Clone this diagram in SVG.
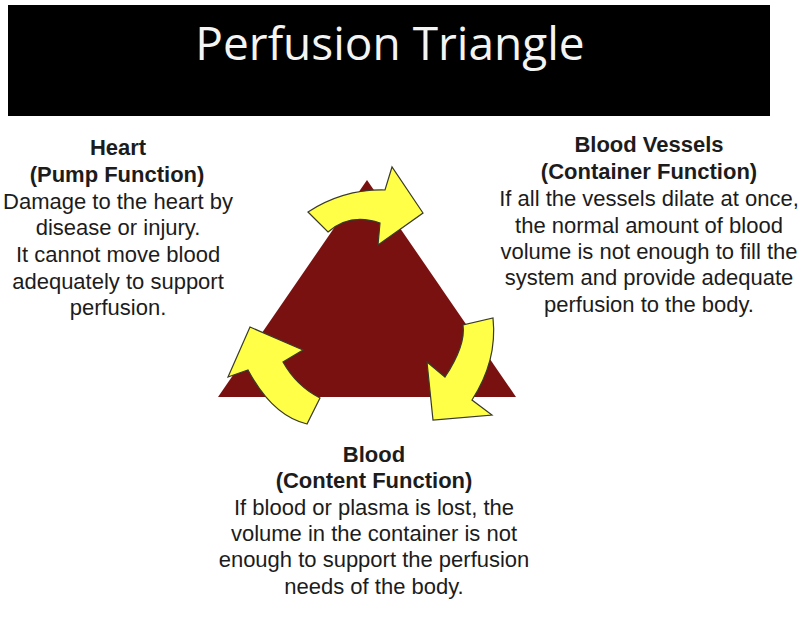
<svg xmlns="http://www.w3.org/2000/svg" width="808" height="618" viewBox="0 0 808 618">
<style>
.t{font-family:"Liberation Sans",Arial,sans-serif;font-size:22px;fill:#1c1c1c;text-anchor:middle}
.h{font-weight:bold}
.arr{fill:#ffff47;stroke:#3a3a2a;stroke-width:1.2;stroke-linejoin:miter}
</style>
<rect width="808" height="618" fill="#ffffff"/>
<g id="title">
<rect x="8" y="5" width="762" height="111" fill="#000000"/>
<text x="390" y="60" font-family="'Open Sans',sans-serif" font-size="46" fill="#f4f4f4" text-anchor="middle">Perfusion Triangle</text>
</g>
<g id="triangle">
<polygon points="367,180 218,397 516,397" fill="#7a1111"/>
</g>
<g id="connectors">
<path class="arr" d="M308,212 Q343.5,189 385,190 L392,167 L423,213 L378,245 L380,223 Q350,212.5 328,232 Z"/>
<path class="arr" d="M493,318 Q497.5,361 472,400 L492,415 L433,420 L427,362 L445,377 Q466,345 463,325 Z"/>
<path class="arr" d="M307,424 Q272.5,416 248,370 L228,377 L250,327 L303,350 L283,362 Q296.5,386 320,398 Z"/>
</g>
<g id="heart">
<text class="t h" x="118" y="155">Heart</text>
<text class="t h" x="117" y="182">(Pump Function)</text>
<text class="t" x="118" y="209">Damage to the heart by</text>
<text class="t" x="118" y="235">disease or injury.</text>
<text class="t" x="118" y="262">It cannot move blood</text>
<text class="t" x="118" y="289">adequately to support</text>
<text class="t" x="118" y="315">perfusion.</text>
</g>
<g id="vessels">
<text class="t h" x="649" y="152">Blood Vessels</text>
<text class="t h" x="649" y="179">(Container Function)</text>
<text class="t" x="649" y="206">If all the vessels dilate at once,</text>
<text class="t" x="649" y="233">the normal amount of blood</text>
<text class="t" x="649" y="259">volume is not enough to fill the</text>
<text class="t" x="649" y="285">system and provide adequate</text>
<text class="t" x="649" y="312">perfusion to the body.</text>
</g>
<g id="blood">
<text class="t h" x="374" y="462">Blood</text>
<text class="t h" x="374" y="488">(Content Function)</text>
<text class="t" x="374" y="515">If blood or plasma is lost, the</text>
<text class="t" x="374" y="541">volume in the container is not</text>
<text class="t" x="374" y="567">enough to support the perfusion</text>
<text class="t" x="374" y="594">needs of the body.</text>
</g>
</svg>
